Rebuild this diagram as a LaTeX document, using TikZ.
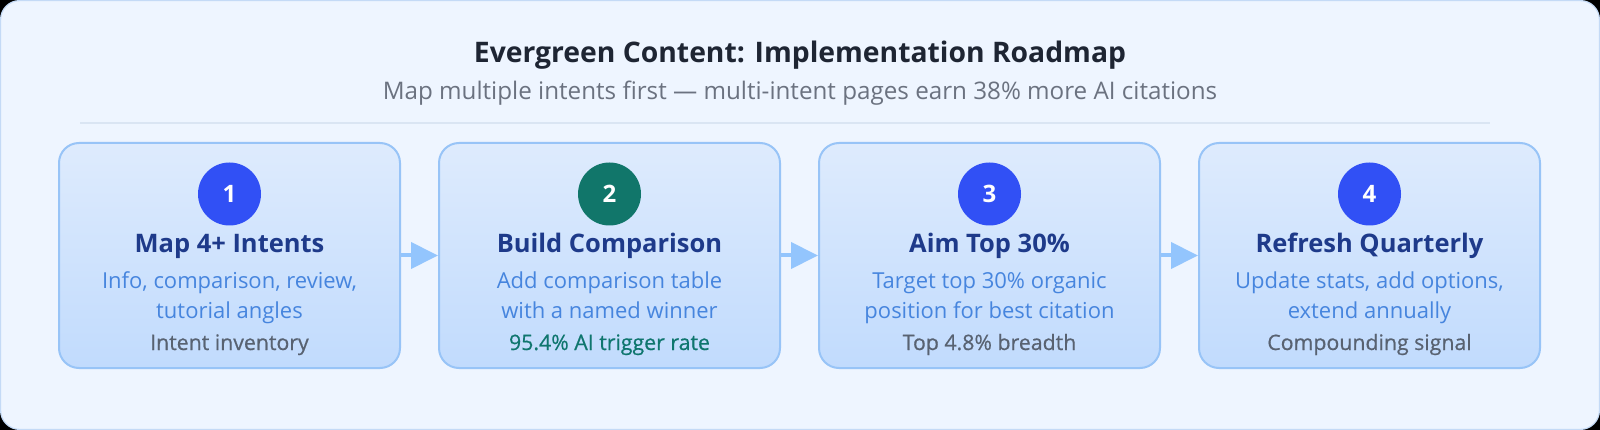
\documentclass[tikz,border=0pt]{standalone}
\usepackage{fontspec}
\setmainfont{Open Sans}
\usetikzlibrary{arrows.meta}
\definecolor{outerbg}{RGB}{238,245,255}
\definecolor{outerline}{RGB}{196,218,246}
\definecolor{sepline}{RGB}{218,229,243}
\definecolor{boxtop}{RGB}{222,235,253}
\definecolor{boxbot}{RGB}{193,219,253}
\definecolor{boxline}{RGB}{152,196,247}
\definecolor{numblue}{RGB}{49,80,245}
\definecolor{numgreen}{RGB}{17,118,106}
\definecolor{navy}{RGB}{30,58,138}
\definecolor{descblue}{RGB}{70,133,222}
\definecolor{footgray}{RGB}{88,98,113}
\definecolor{footgreen}{RGB}{15,118,110}
\definecolor{maintitle}{RGB}{30,37,51}
\definecolor{subgray}{RGB}{107,114,128}
\definecolor{arrowc}{RGB}{147,197,253}
\begin{document}
\begin{tikzpicture}[x=1pt,y=-1pt,
  stepbox/.style={draw=boxline, line width=2pt, rounded corners=20pt, top color=boxtop, bottom color=boxbot, minimum width=341pt, minimum height=225pt, inner sep=0pt},
  numcirc/.style={circle, minimum size=63pt, inner sep=0pt, text=white, font=\bfseries\fontsize{24}{26}\selectfont},
  steptitle/.style={anchor=base, text=navy, inner sep=0pt, font=\bfseries\fontsize{25.5}{28}\selectfont},
  stepdesc/.style={anchor=base, text=descblue, inner sep=0pt, font=\fontsize{22}{26}\selectfont},
  stepfoot/.style={anchor=base, text=footgray, inner sep=0pt, font=\fontsize{21.3}{24}\selectfont\addfontfeature{FakeBold=0.6}},
  arr/.style={draw=arrowc, line width=4pt, -{Triangle[length=27pt,width=26pt]}}
]
\useasboundingbox (0,0) rectangle (1600,430);
\fill[black] (0,0) rectangle (1600,430);
\draw[fill=outerbg, draw=outerline, line width=1.2pt, rounded corners=19pt] (0.6,0.6) rectangle (1599.4,429.4);

\node[anchor=base, inner sep=0pt, text=maintitle, font=\bfseries\fontsize{28.3}{32}\selectfont] (title) at (800,63) {Evergreen Content: Implementation Roadmap};
\node[anchor=base, inner sep=0pt, text=subgray, font=\fontsize{24.2}{28}\selectfont] (subtitle) at (800,100) {Map multiple intents first — multi-intent pages earn 38\% more AI citations};
\draw[sepline, line width=1.5pt] (80,123) -- (1490,123);

% boxes
\node[stepbox] (b1) at (229.5,255.5) {};
\node[stepbox] (b2) at (609.5,255.5) {};
\node[stepbox] (b3) at (989.5,255.5) {};
\node[stepbox] (b4) at (1369.5,255.5) {};

% numbers
\node[numcirc, fill=numblue] (c1) at (229.5,194) {1};
\node[numcirc, fill=numgreen] (c2) at (609.5,194) {2};
\node[numcirc, fill=numblue] (c3) at (989.5,194) {3};
\node[numcirc, fill=numblue] (c4) at (1369.5,194) {4};

% step 1
\node[steptitle] (t1) at (229.5,253) {Map 4+ Intents};
\node[stepdesc] (d1a) at (229.5,288) {Info, comparison, review,};
\node[stepdesc] (d1b) at (229.5,318) {tutorial angles};
\node[stepfoot] (f1) at (229.5,350) {Intent inventory};

% step 2
\node[steptitle] (t2) at (609.5,253) {Build Comparison};
\node[stepdesc] (d2a) at (609.5,288) {Add comparison table};
\node[stepdesc] (d2b) at (609.5,318) {with a named winner};
\node[stepfoot, text=footgreen] (f2) at (609.5,350) {95.4\% AI trigger rate};

% step 3
\node[steptitle] (t3) at (989.5,253) {Aim Top 30\%};
\node[stepdesc] (d3a) at (989.5,288) {Target top 30\% organic};
\node[stepdesc] (d3b) at (989.5,318) {position for best citation};
\node[stepfoot] (f3) at (989.5,350) {Top 4.8\% breadth};

% step 4
\node[steptitle] (t4) at (1369.5,253) {Refresh Quarterly};
\node[stepdesc] (d4a) at (1369.5,288) {Update stats, add options,};
\node[stepdesc] (d4b) at (1369.5,318) {extend annually};
\node[stepfoot] (f4) at (1369.5,350) {Compounding signal};

% arrows
\draw[arr] (b1.east) -- (b2.west);
\draw[arr] (b2.east) -- (b3.west);
\draw[arr] (b3.east) -- (b4.west);
\end{tikzpicture}
\end{document}
